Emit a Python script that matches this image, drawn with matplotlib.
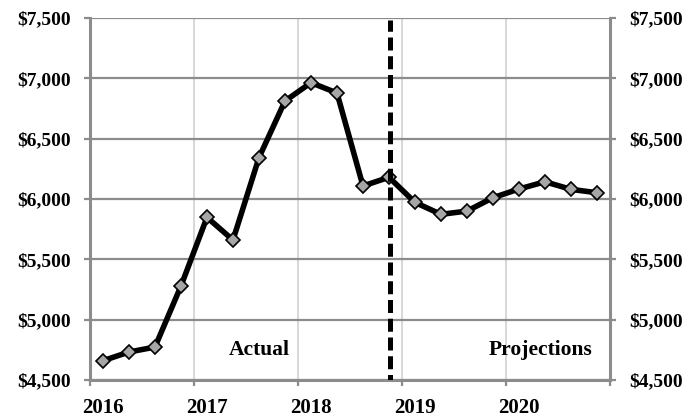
import matplotlib.pyplot as plt
from matplotlib.ticker import FuncFormatter

# quarterly values, plotted at quarter midpoints
quarters = [2016.125 + 0.25 * i for i in range(20)]
values = [4660, 4732, 4773, 5279, 5848, 5660, 6343, 6812, 6964, 6879,
          6108, 6180, 5972, 5873, 5900, 6011, 6083, 6143, 6080, 6052]
years = [2016, 2017, 2018, 2019, 2020]
y_ticks = [4500, 5000, 5500, 6000, 6500, 7000, 7500]
split_x = 2018.88

plt.rcParams['font.family'] = ['Liberation Serif', 'DejaVu Serif']
plt.rcParams['font.weight'] = 'bold'

fig = plt.figure(figsize=(6.92, 4.17), dpi=100)
ax = fig.add_axes([0.130, 0.0887, 0.7515, 0.8681])

ax.set_xlim(2016, 2021)
ax.set_ylim(4500, 7500)

for x in years[1:] + [2021]:
    ax.axvline(x, color='#d4d4d4', lw=1.3, zorder=0)
for y in y_ticks:
    ax.axhline(y, color='#8c8c8c', lw=1.6, zorder=0)

ax.plot(quarters, values, color='black', lw=4.0, marker='D', ms=7,
        mfc='#a6a6a6', mec='black', mew=1.2, zorder=3, solid_joinstyle='miter')
ax.axvline(split_x, ymax=0.995, color='black', lw=3.6, ls=(1.5, (2.6, 1.15)), zorder=4)

ax.text(2017.63, 4745, 'Actual', ha='center', va='center', fontsize=15.5, fontweight='bold')
ax.text(2020.33, 4745, 'Projections', ha='center', va='center', fontsize=15.5, fontweight='bold')

fmt = FuncFormatter(lambda v, p: '${:,.0f}'.format(v))
# tick marks on the years, labels sit just right of them
ax.set_xticks(years + [2021])
ax.set_xticklabels([])
ax.set_xticks([y + 0.125 for y in years], minor=True)
ax.set_xticklabels([str(y) for y in years], minor=True)
ax.tick_params(axis='x', which='minor', length=0, labelsize=15, pad=13)
ax.set_yticks(y_ticks)
ax.yaxis.set_major_formatter(fmt)
ax.tick_params(axis='both', which='major', labelsize=14, color='#8c8c8c', width=1.6, length=4.5)
ax.tick_params(axis='y', pad=9.5)

for side in ['top']:
    ax.spines[side].set_visible(False)
for side in ['left', 'right', 'bottom']:
    ax.spines[side].set_color('#8c8c8c')
    ax.spines[side].set_linewidth(2.2)

ax2 = ax.twinx()
ax2.set_ylim(ax.get_ylim())
ax2.set_yticks(y_ticks)
ax2.yaxis.set_major_formatter(fmt)
ax2.tick_params(axis='y', labelsize=14, color='#8c8c8c', width=1.6, length=4.5, pad=9.5)
for s in ax2.spines.values():
    s.set_visible(False)

for lab in (ax.get_xticklabels(minor=True) + ax.get_yticklabels()
            + ax2.get_yticklabels()):
    lab.set_fontweight('bold')

fig.savefig('out.png', dpi=100)
